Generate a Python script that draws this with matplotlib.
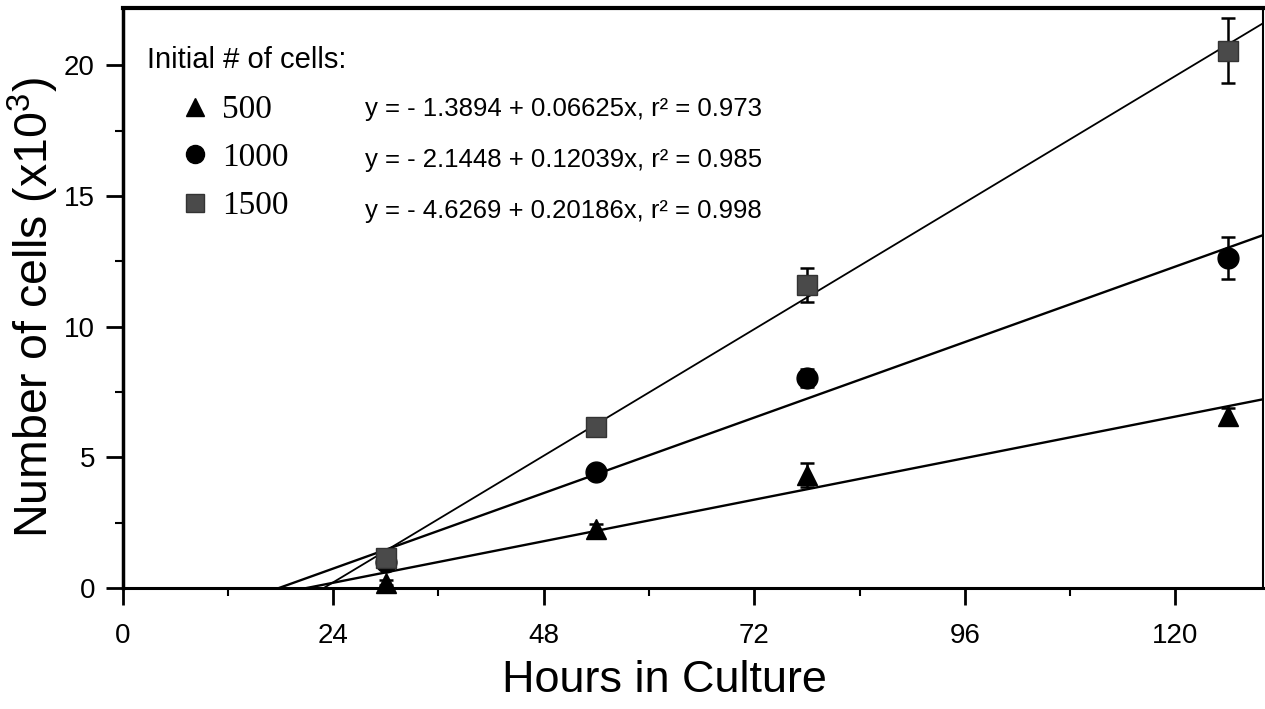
import matplotlib
matplotlib.use("Agg")
import matplotlib.pyplot as plt
from matplotlib.ticker import MultipleLocator
import numpy as np

plt.rcParams['font.family'] = ['Liberation Sans', 'DejaVu Sans']
plt.rcParams['mathtext.fontset'] = 'custom'
plt.rcParams['mathtext.rm'] = 'Liberation Sans'
plt.rcParams['mathtext.it'] = 'Liberation Sans'

# ---- data ----
hours = [30, 54, 78, 126]
cells_500 = [0.2, 2.25, 4.32, 6.58]
err_500 = [0.1, 0.2, 0.47, 0.3]
cells_1000 = [1.0, 4.44, 8.03, 12.62]
err_1000 = [0.1, 0.15, 0.35, 0.8]
cells_1500 = [1.13, 6.16, 11.59, 20.57]
err_1500 = [0.15, 0.15, 0.65, 1.23]

series_labels = ["500", "1000", "1500"]
intercepts = [-1.3894, -2.1448, -4.6269]
slopes = [0.06625, 0.12039, 0.20186]
r2 = ["0.973", "0.985", "0.998"]
equations = ["y = - 1.3894 + 0.06625x, r\u00b2 = 0.973",
             "y = - 2.1448 + 0.12039x, r\u00b2 = 0.985",
             "y = - 4.6269 + 0.20186x, r\u00b2 = 0.998"]

x_ticks = [0, 24, 48, 72, 96, 120]
y_ticks = [0, 5, 10, 15, 20]
x_max = 130
y_max = 22.2

W, H = 1265, 709
fig = plt.figure(figsize=(W / 100, H / 100), dpi=100)
ax = fig.add_axes([122.7 / W, 1 - 588 / H, (1263 - 122.7) / W, 580 / H])
ax.set_xlim(0, x_max)
ax.set_ylim(0, y_max)

sq_face = '#4a4a4a'
sq_edge = '#333333'
markers = ['^', 'o', 's']
faces = ['black', 'black', sq_face]
edges = ['black', 'black', sq_edge]
msizes = [15, 15, 15]
data = [cells_500, cells_1000, cells_1500]
errs = [err_500, err_1000, err_1500]
lws = [1.7, 1.7, 1.3]

# regression lines
for b, m, lw in zip(intercepts, slopes, lws):
    x0 = -b / m
    xs = np.array([x0, x_max])
    ax.plot(xs, b + m * xs, color='black', lw=lw, zorder=2, clip_on=True)

for d, e, mk, fc, ec, ms in zip(data, errs, markers, faces, edges, msizes):
    ax.errorbar(hours, d, yerr=e, fmt='none', ecolor='black', elinewidth=1.8,
                capsize=4.8, capthick=1.8, zorder=3)
    ax.plot(hours, d, linestyle='none', marker=mk, markersize=ms,
            markerfacecolor=fc, markeredgecolor=ec, markeredgewidth=1.0,
            zorder=4, clip_on=False)

# axes styling
ax.xaxis.set_minor_locator(MultipleLocator(12))
ax.yaxis.set_minor_locator(MultipleLocator(2.5))
ax.set_xticks(x_ticks)
ax.set_yticks(y_ticks)
ax.tick_params(which='major', direction='out', length=12, width=2,
               labelsize=20, color='black')
ax.tick_params(which='minor', direction='out', length=6, width=1.5)
ax.tick_params(axis='x', which='major', pad=13)
ax.tick_params(axis='y', which='major', pad=8)
ax.spines['left'].set_linewidth(2.5)
ax.spines['bottom'].set_linewidth(2.2)
ax.spines['top'].set_linewidth(3)
ax.spines['right'].set_linewidth(1.5)

# axis labels
fig.text(664 / W, 1 - 692 / H, "Hours in Culture", fontsize=32.4,
         ha='center', va='baseline')
fig.text(48 / W, 1 - 308 / H, "Number of cells (x10$^3$)", fontsize=33.5,
         ha='center', va='baseline', rotation=90, rotation_mode='anchor')

# legend (drawn as text + markers)
fig.text(147 / W, 1 - 68 / H, "Initial # of cells:", fontsize=21,
         ha='left', va='baseline')
row_base = [118, 166, 214]
row_center = [107, 154, 203]
leg_ms = [13, 13, 12.5]
for i in range(3):
    ax.plot([195 / W], [1 - row_center[i] / H], transform=fig.transFigure,
            marker=markers[i], markersize=leg_ms[i], markerfacecolor=faces[i],
            markeredgecolor=edges[i], linestyle='none', clip_on=False)
    fig.text(222 / W, 1 - row_base[i] / H, series_labels[i], fontsize=24,
             family=['Liberation Serif', 'DejaVu Serif'], ha='left', va='baseline')
    fig.text(365 / W, 1 - (row_base[i] - 2 + i * 3) / H, equations[i],
             fontsize=18.5, ha='left', va='baseline')

fig.savefig("out.png", dpi=100)
